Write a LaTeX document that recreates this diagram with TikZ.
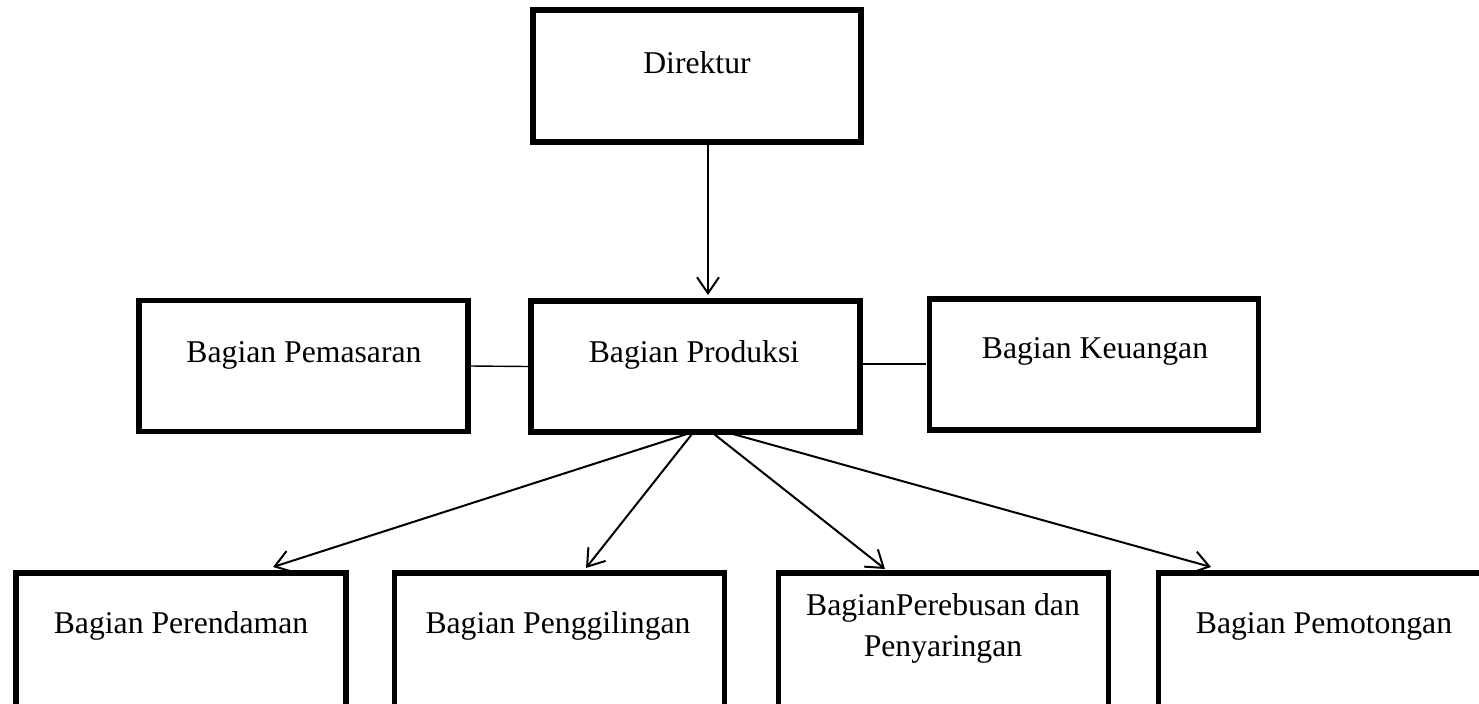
\documentclass[tikz,border=0pt]{standalone}
\usepackage{fontspec}
\setmainfont{Liberation Serif}
\usetikzlibrary{arrows.meta}
\begin{document}
\begin{tikzpicture}[x=0.5pt,y=-0.5pt,
  box/.style={draw,line width=2.8pt,rectangle,inner sep=0pt},
  topbox/.style={box,minimum width=164.5pt,minimum height=65.5pt},
  lowbox/.style={box,minimum width=165pt,minimum height=67pt},
  lbl/.style={anchor=base,inner sep=0pt,align=center,
    font=\fontsize{15.85pt}{20.5pt}\selectfont},
  link/.style={line width=0.7pt},
  arr/.style={line width=1pt,-{Straight Barb[length=8pt,width=11pt]}}]
\clip (0,0) rectangle (1479,703);
\fill[white] (0,0) rectangle (1479,703);

% boxes
\node[box,minimum width=164.25pt,minimum height=66.25pt] (dir) at (697,76) {};
\node[topbox] (pem) at (303.5,366) {};
\node[topbox] (prod) at (695.5,366.5) {};
\node[topbox] (keu) at (1094,364.5) {};
\node[lowbox] (b1) at (181,640) {};
\node[lowbox] (b2) at (559.5,640) {};
\node[lowbox] (b3) at (943.5,640) {};
\node[lowbox] (b4) at (1323.5,640) {};

% labels (base anchor = baseline of the last line)
\node[lbl] (tdir) at (697,73) {Direktur};
\node[lbl] (tpem) at (304,362) {Bagian Pemasaran};
\node[lbl] (tprod) at (694,362) {Bagian Produksi};
\node[lbl] (tkeu) at (1095,358) {Bagian Keuangan};
\node[lbl] (tb1) at (181,633) {Bagian Perendaman};
\node[lbl] (tb2) at (558,633) {Bagian Penggilingan};
\node[lbl] (tb3) at (943,656) {BagianPerebusan dan\\Penyaringan};
\node[lbl] (tb4) at (1324,633) {Bagian Pemotongan};

% connector end points on the box edges
\coordinate (d0) at (708,145);
\coordinate (d1) at (708,295);
\coordinate (pk) at (863,364);
\coordinate (kp) at (926,364);
\coordinate (s1) at (687,434);
\coordinate (s2) at (692,434);
\coordinate (s3) at (714,434);
\coordinate (s4) at (733,434);
\coordinate (e1) at (273,567);
\coordinate (e2) at (586,568);
\coordinate (e3) at (885,569);
\coordinate (e4) at (1211,567);

% connectors
\draw[arr] (d0) -- (d1);
\draw[link] (pem.east) -- (prod.west);
\draw[link] (pk) -- (kp);
\draw[arr] (s1) -- (e1);
\draw[arr] (s2) -- (e2);
\draw[arr] (s3) -- (e3);
\draw[arr] (s4) -- (e4);
\end{tikzpicture}
\end{document}
